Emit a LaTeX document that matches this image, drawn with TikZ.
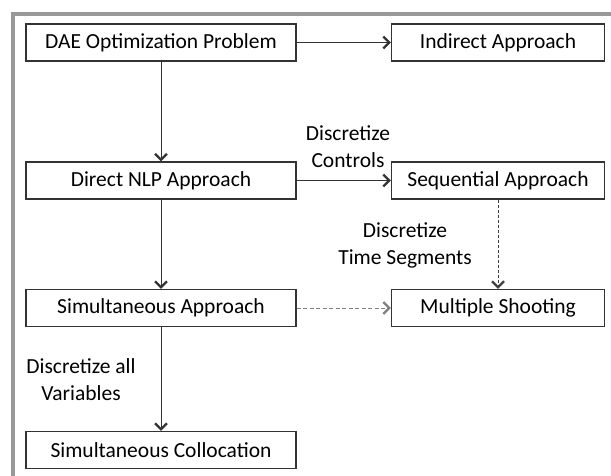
\documentclass[tikz,border=0pt]{standalone}
\usepackage{fontspec}
\setmainfont{Carlito}
\usetikzlibrary{arrows.meta}
\tikzset{
  box/.style={draw=black!80, line width=1.1pt, fill=white, minimum height=37pt, inner sep=0pt, text=black, font=\fontsize{21.5}{25}\selectfont},
  lbox/.style={box, minimum width=270pt},
  rbox/.style={box, minimum width=213pt},
  flow/.style={draw=black!80, line width=0.9pt, -{Straight Barb[length=6pt,width=12pt,line width=2.4pt]}},
  lbl/.style={align=center, text=black, font=\fontsize{21.5}{27}\selectfont}
}
\begin{document}
\begin{tikzpicture}[x=1pt,y=-1pt]
\useasboundingbox (0,0) rectangle (611,476);
\clip (0,0) rectangle (611,476);
% outer frame, only the left and top edges fall inside the page
\draw[black!40, line width=4pt] (13,490) -- (13,14) -- (630,14);
% left column
\node[lbox] (dae) at (161,42.5) {DAE Optimization Problem};
\node[lbox] (nlp) at (161,180.5) {Direct NLP Approach};
\node[lbox] (sim) at (161,308) {Simultaneous Approach};
\node[lbox] (col) at (161,450) {Simultaneous Collocation};
% right column
\node[rbox] (ind) at (498,42.5) {Indirect Approach};
\node[rbox] (seq) at (498,180.5) {Sequential Approach};
\node[rbox] (msh) at (498,308) {Multiple Shooting};
% connectors
\draw[flow] (dae) -- (ind);
\draw[flow] (dae) -- (nlp);
\draw[flow] (nlp) -- (seq);
\draw[flow] (nlp) -- (sim);
\draw[flow] (sim) -- (col);
\draw[flow, dashed, dash pattern=on 3pt off 2pt, draw=black!75] (seq) -- (msh);
\draw[flow, dashed, dash pattern=on 4pt off 2.5pt, draw=black!50] (sim) -- (msh);
% labels
\node[lbl] (lctl) at (348,147) {Discretize\\Controls};
\node[lbl] (lseg) at (405,245) {Discretize\\Time Segments};
\node[lbl] (lvar) at (81,380) {Discretize all\\Variables};
\end{tikzpicture}
\end{document}
